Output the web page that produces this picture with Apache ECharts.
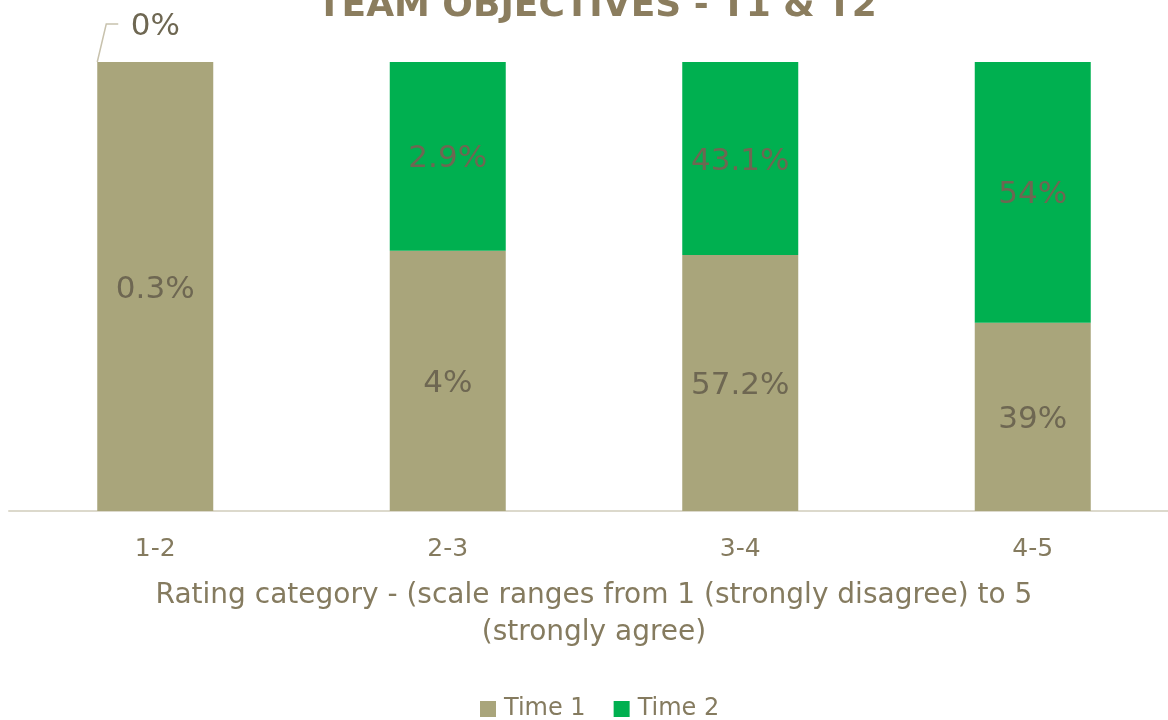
<!DOCTYPE html>
<html>
<head>
<meta charset="utf-8">
<script src="https://cdn.jsdelivr.net/npm/echarts@6/dist/echarts.min.js"></script>
<style>
  html, body { margin: 0; padding: 0; background: #fff; }
  #chart { width: 1168px; height: 720px; }
</style>
</head>
<body>
<div id="chart"></div>
<script>
// Rating categories and the reported percentages for each time point
const categories = ['1-2', '2-3', '3-4', '4-5'];
const time1 = [0.3, 4, 57.2, 39];
const time2 = [0, 2.9, 43.1, 54];

const TEXT = '#857b5f';
const LABEL = '#6e6752';
const FONT = '"DejaVu Sans", sans-serif';
const BAR_W = 116;

// Each column is shown as a 100% stack of the two time points
function share(a, b) { return categories.map((_, i) => a[i] / (a[i] + b[i]) * 100); }
const t1Share = share(time1, time2);
const t2Share = share(time2, time1);

const chart = echarts.init(document.getElementById('chart'));
chart.setOption({
  animation: false,
  title: {
    text: 'TEAM OBJECTIVES - T1 & T2',
    left: 312,
    top: -16,
    textStyle: { color: '#8b7d5e', fontSize: 36, fontWeight: 'bold', fontFamily: FONT }
  },
  grid: { left: 9, width: 1170, top: 62, height: 449, outerBoundsMode: 'none' },
  legend: {
    bottom: -6,
    left: 475,
    itemWidth: 16,
    itemHeight: 16,
    itemGap: 28,
    icon: 'rect',
    textStyle: { color: TEXT, fontSize: 24, fontFamily: FONT, padding: [0, 0, 0, 3] },
    data: ['Time 1', 'Time 2']
  },
  xAxis: {
    type: 'category',
    data: categories,
    name: 'Rating category - (scale ranges from 1 (strongly disagree) to 5\n(strongly agree)',
    nameLocation: 'middle',
    nameGap: 66,
    nameTextStyle: { color: TEXT, fontSize: 28, fontFamily: FONT, lineHeight: 37 },
    axisLine: { lineStyle: { color: '#dcd9cc', width: 2 } },
    axisTick: { show: false },
    axisLabel: { color: TEXT, fontSize: 25, fontFamily: FONT, margin: 26 }
  },
  yAxis: { type: 'value', min: 0, max: 100, show: false },
  series: [
    {
      name: 'Time 1',
      type: 'bar',
      stack: 'all',
      barWidth: BAR_W,
      itemStyle: { color: '#a9a57b' },
      data: t1Share,
      label: {
        show: true,
        position: 'inside',
        offset: [0, 3],
        color: LABEL,
        fontSize: 31,
        fontFamily: FONT,
        formatter: p => time1[p.dataIndex] + '%'
      }
    },
    {
      name: 'Time 2',
      type: 'bar',
      stack: 'all',
      barWidth: BAR_W,
      itemStyle: { color: '#00b050' },
      data: t2Share.map((v, i) => time2[i] === 0
        ? { value: v, label: { position: 'top', distance: 20, offset: [0, 0] } }
        : v),
      label: {
        show: true,
        position: 'inside',
        offset: [0, 3],
        color: LABEL,
        fontSize: 31,
        fontFamily: FONT,
        formatter: p => time2[p.dataIndex] + '%'
      }
    }
  ]
});

// Leader line from the top-left corner of a zero-height segment up to its label
const leaders = [];
time2.forEach((v, i) => {
  if (v !== 0) return;
  const top = chart.convertToPixel({ gridIndex: 0 }, [i, 100]);
  const x0 = top[0] - BAR_W / 2;
  const y0 = top[1];
  leaders.push({
    type: 'polyline',
    silent: true,
    shape: { points: [[x0, y0], [x0 + 9, y0 - 38], [x0 + 21, y0 - 38]] },
    style: { stroke: '#c8c2ad', lineWidth: 1.5, fill: null }
  });
});
chart.setOption({ graphic: leaders });
</script>
</body>
</html>
